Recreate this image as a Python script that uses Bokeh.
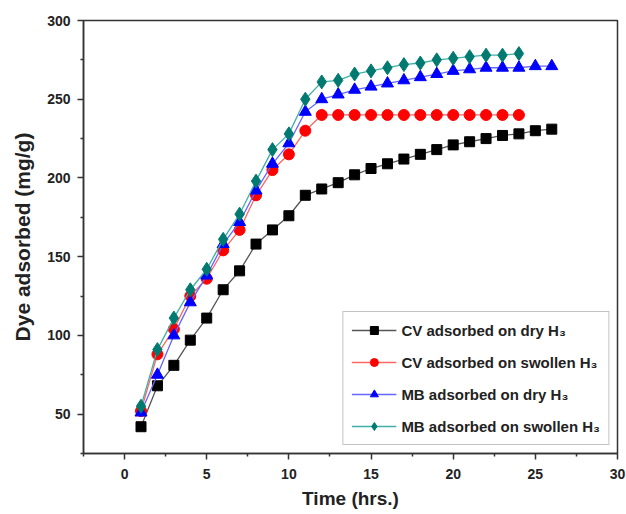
from bokeh.plotting import figure
from bokeh.models import FixedTicker, Legend, LegendItem, Range1d
from bokeh.embed import file_html
from bokeh.resources import INLINE

# ---- data ----
time_cv_dry = list(range(1, 27))
cv_dry = [42, 68, 81, 97, 111, 129, 141, 158, 167, 176, 189, 193, 197, 202,
          206, 209, 212, 215, 218, 221, 223, 225, 227, 228, 230, 231]

time_cv_sw = list(range(1, 25))
cv_swollen = [52, 88, 104, 125, 136, 154, 167, 189, 205, 215, 230, 240, 240,
              240, 240, 240, 240, 240, 240, 240, 240, 240, 240, 240]

time_mb_dry = list(range(1, 27))
mb_dry = [51, 75, 100, 121, 138, 158, 172, 192, 209, 222, 242, 250, 253, 256,
          258, 260, 262, 264, 266, 268, 269, 270, 270, 270, 271, 271]

time_mb_sw = list(range(1, 25))
mb_swollen = [55, 91, 111, 129, 142, 161, 177, 198, 218, 228, 250, 261, 262,
              266, 268, 270, 272, 273, 275, 276, 277, 278, 278, 279]

labels = ["CV adsorbed on dry H\u2083", "CV adsorbed on swollen H\u2083",
          "MB adsorbed on dry H\u2083", "MB adsorbed on swollen H\u2083"]

x_major = [0, 5, 10, 15, 20, 25, 30]
x_minor = [-2.5, 2.5, 7.5, 12.5, 17.5, 22.5, 27.5]
y_major = [50, 100, 150, 200, 250, 300]
y_minor = [25, 75, 125, 175, 225, 275]

FONT = "Liberation Sans"

p = figure(width=626, height=514, output_backend="svg", toolbar_location=None,
           x_range=Range1d(-2.5, 30), y_range=Range1d(25, 300),
           min_border_left=83, min_border_right=9, min_border_top=20,
           min_border_bottom=61)
p.background_fill_color = "white"
p.border_fill_color = "white"
p.grid.visible = False
p.outline_line_color = "#333333"
p.outline_line_width = 1.5

for ax in (p.xaxis[0], p.yaxis[0]):
    ax.axis_line_color = "#333333"
    ax.axis_line_width = 1.5
    ax.major_tick_line_color = "#333333"
    ax.major_tick_line_width = 1.5
    ax.minor_tick_line_color = "#333333"
    ax.minor_tick_line_width = 1.5
    ax.major_tick_out = 6
    ax.major_tick_in = 0
    ax.minor_tick_out = 3
    ax.minor_tick_in = 0
    ax.major_label_text_font = FONT
    ax.major_label_text_font_style = "bold"
    ax.major_label_text_font_size = "14px"
    ax.major_label_text_color = "#222222"
    ax.axis_label_text_font = FONT
    ax.axis_label_text_font_style = "bold"
    ax.axis_label_text_color = "#222222"

p.xaxis[0].axis_label_text_font_size = "19px"
p.yaxis[0].axis_label_text_font_size = "21px"
p.xaxis[0].ticker = FixedTicker(ticks=x_major, minor_ticks=x_minor)
p.yaxis[0].ticker = FixedTicker(ticks=y_major, minor_ticks=y_minor)
p.xaxis[0].axis_label = "Time (hrs.)"
p.yaxis[0].axis_label = "Dye adsorbed (mg/g)"
p.xaxis[0].major_label_standoff = 9
p.xaxis[0].axis_label_standoff = 6
p.yaxis[0].major_label_standoff = 7
p.yaxis[0].axis_label_standoff = 10

series = [
    (time_cv_dry, cv_dry, "#555555", "black", "square", 10),
    (time_cv_sw, cv_swollen, "#ff6666", "#ff0000", "circle", 11),
    (time_mb_dry, mb_dry, "#6666ff", "#0000ff", "triangle", 12),
    (time_mb_sw, mb_swollen, "#40b0a8", "#007a70", "diamond", 14),
]

items = []
for (xs, ys, lc, mc, marker, size), lab in zip(series, labels):
    l = p.line(xs, ys, line_color=lc, line_width=1.3)
    m = p.scatter(xs, ys, marker=marker, size=size, fill_color=mc,
                  line_color=mc)
    items.append(LegendItem(label=lab, renderers=[l, m]))

legend = Legend(items=items, location="bottom_right", margin=8,
                label_text_font=FONT, label_text_font_style="bold",
                label_text_font_size="15px", label_text_color="#222222",
                glyph_width=45, glyph_height=20, spacing=12, padding=8,
                label_standoff=5, border_line_color="#888888",
                border_line_width=1.2, background_fill_alpha=1.0)
p.add_layout(legend)

open("out.html", "w").write(file_html(p, INLINE))
